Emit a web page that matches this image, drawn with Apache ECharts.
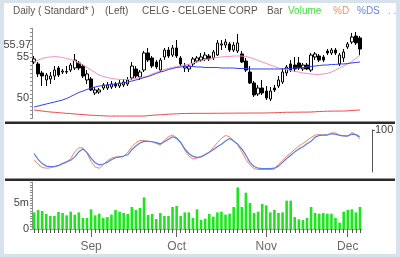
<!DOCTYPE html>
<html><head><meta charset="utf-8">
<script src="https://cdn.jsdelivr.net/npm/echarts@6/dist/echarts.min.js"></script>
<style>
html,body{margin:0;padding:0;background:#d7e2ed;}
#c{width:400px;height:257px;}
</style></head><body><div id="c"></div>
<script>
const dates = ['Aug 12','Aug 13','Aug 14','Aug 15','Aug 18','Aug 19','Aug 20','Aug 21','Aug 22','Aug 25','Aug 26','Aug 27','Aug 28','Aug 29',
'Sep 2','Sep 3','Sep 4','Sep 5','Sep 8','Sep 9','Sep 10','Sep 11','Sep 12','Sep 15','Sep 16','Sep 17','Sep 18','Sep 19','Sep 22','Sep 23','Sep 24','Sep 25','Sep 26','Sep 29','Sep 30',
'Oct 1','Oct 2','Oct 3','Oct 6','Oct 7','Oct 8','Oct 9','Oct 10','Oct 13','Oct 14','Oct 15','Oct 16','Oct 17','Oct 20','Oct 21','Oct 22','Oct 23','Oct 24','Oct 27','Oct 28','Oct 29','Oct 30',
'Nov 3','Nov 4','Nov 5','Nov 6','Nov 7','Nov 10','Nov 11','Nov 12','Nov 13','Nov 14','Nov 17','Nov 18','Nov 19','Nov 20','Nov 21','Nov 24','Nov 25','Nov 26','Nov 27','Nov 28',
'Dec 1','Dec 2','Dec 3','Dec 4'];

const opens = [54.39,54.15,53.05,52.20,52.32,52.68,53.66,53.17,53.17,53.41,
53.66,54.27,53.90,52.20,52.32,50.61,50.73,51.22,51.22,51.34,
51.71,51.46,51.59,51.71,52.44,53.54,52.56,53.41,55.49,54.88,
54.39,53.41,55.00,55.85,55.24,56.10,54.88,53.66,53.54,54.15,
54.51,54.63,54.76,55.12,54.88,55.24,56.46,56.46,56.59,55.85,
55.73,55.37,54.51,53.17,51.83,50.49,51.22,50.85,49.88,51.22,
51.46,51.95,53.05,54.15,54.02,54.27,53.54,54.02,53.41,55.00,
55.12,55.00,55.73,55.49,55.85,54.15,54.88,56.22,56.83,57.56,
57.32];
const closes = [54.76,52.93,52.68,52.80,52.68,53.41,52.80,53.29,53.23,54.02,
54.63,53.66,52.68,52.93,50.98,50.98,50.98,51.59,51.59,51.71,
51.46,51.83,51.95,52.20,53.90,52.68,53.17,55.49,54.63,53.90,
53.78,54.63,55.85,55.12,56.10,55.12,54.15,53.90,53.90,54.76,
54.88,55.00,55.24,54.76,55.61,56.71,56.59,56.83,55.85,56.46,
56.71,54.39,53.41,51.83,50.37,51.22,50.61,50.00,50.85,50.98,
52.20,53.17,53.78,53.41,53.54,53.66,54.02,53.54,55.24,55.37,
54.63,54.63,55.49,55.85,55.49,55.24,55.61,56.59,57.44,56.71,
55.97];
const lows = [54.15,52.56,51.46,51.46,51.71,52.20,52.56,52.93,52.93,53.17,
53.41,53.41,52.44,51.71,50.85,50.37,50.49,50.98,50.98,51.10,
51.22,51.22,51.34,51.46,52.20,52.44,52.20,53.17,54.39,53.66,
53.54,53.17,54.63,54.88,55.00,54.88,53.90,53.17,53.17,53.90,
54.27,54.39,54.51,54.51,54.63,55.12,55.85,56.10,55.61,55.61,
55.49,54.27,53.17,51.71,50.12,50.24,50.37,49.76,49.63,50.73,
51.22,51.71,52.68,53.17,53.17,53.41,53.29,53.41,53.17,54.63,
54.39,54.39,55.24,55.24,55.24,53.90,54.39,55.98,56.59,56.46,
55.24];
const highs = [55.12,54.39,53.29,53.05,53.17,53.90,53.90,53.54,53.90,54.27,
55.37,54.51,54.15,53.41,52.56,51.34,51.22,51.83,51.95,52.07,
51.95,52.20,52.32,52.56,54.39,53.90,53.41,55.73,56.10,55.12,
54.63,54.88,56.10,56.22,56.46,57.07,55.12,54.27,54.15,55.00,
55.12,55.49,55.61,55.37,55.85,57.07,57.07,57.20,56.83,56.83,
57.80,55.73,54.88,53.90,52.07,51.59,52.20,51.46,51.34,51.59,
52.68,53.66,54.02,54.63,55.00,55.00,54.27,54.27,55.49,55.61,
55.37,55.24,55.98,56.10,56.10,55.49,55.98,56.83,57.93,58.05,
57.56];

const maPink = [54.39,54.63,54.82,54.94,55.00,55.06,55.00,54.94,54.82,54.70,
54.51,54.27,54.02,53.72,53.41,53.11,52.80,52.62,52.50,52.38,
52.32,52.26,52.26,52.26,52.32,52.38,52.50,52.56,52.68,52.93,
53.11,53.29,53.48,53.60,53.72,53.84,53.90,54.02,54.09,54.27,
54.39,54.51,54.70,54.76,54.88,54.94,55.00,55.06,55.06,55.12,
55.12,55.12,55.06,54.94,54.76,54.57,54.39,54.21,54.02,53.84,
53.66,53.54,53.48,53.35,53.23,53.17,53.05,52.99,52.93,52.87,
52.87,52.93,52.99,53.17,53.41,53.66,53.90,54.15,54.45,54.82,
55.24];
const maBlue = [48.90,49.02,49.15,49.27,49.39,49.51,49.63,49.76,49.94,50.18,
50.43,50.67,50.85,51.04,51.22,51.34,51.46,51.52,51.59,51.65,
51.71,51.77,51.83,51.95,52.07,52.20,52.32,52.50,52.62,52.80,
52.99,53.17,53.29,53.48,53.60,53.72,53.78,53.84,53.84,53.84,
53.78,53.78,53.72,53.72,53.72,53.72,53.66,53.66,53.66,53.66,
53.60,53.60,53.60,53.54,53.54,53.54,53.54,53.54,53.54,53.54,
53.54,53.54,53.60,53.60,53.66,53.66,53.72,53.78,53.84,53.90,
53.96,54.02,54.02,54.09,54.09,54.15,54.15,54.21,54.27,54.33,
54.39];
const maRed = [48.54,48.48,48.41,48.35,48.29,48.26,48.22,48.17,48.13,48.10,
48.05,48.01,47.98,47.93,47.90,47.88,47.85,47.83,47.80,47.80,
47.80,47.80,47.80,47.80,47.80,47.80,47.80,47.80,47.85,47.90,
47.93,47.95,47.99,48.02,48.05,48.07,48.10,48.11,48.12,48.13,
48.13,48.13,48.13,48.13,48.14,48.14,48.14,48.15,48.15,48.15,
48.16,48.16,48.16,48.17,48.17,48.17,48.17,48.18,48.19,48.20,
48.22,48.24,48.26,48.26,48.27,48.27,48.28,48.28,48.29,48.32,
48.35,48.37,48.39,48.40,48.40,48.41,48.41,48.43,48.48,48.51,
48.54];

const stochD = [29,18,11,9,10,13,16,20,24,32,
48,58,57,45,25,12,9,17,27,33,
36,36,37,47,60,70,75,75,73,72,
68,64,76,84,88,82,72,52,38,31,
33,37,42,47,58,70,80,87,84,74,
65,48,30,17,8,6,6,6,6,7,
18,28,38,45,54,62,68,75,82,88,
89,88,89,93,93,88,86,85,94,89,78];
const stochDS = [44,30,20,14,13,13,15,20,24,28,
36,48,55,46,33,22,17,19,23,29,
34,36,38,41,53,62,69,73,73,72,
70,67,72,78,84,80,70,55,44,37,
35,36,41,47,53,60,66,74,80,74,
66,55,40,23,13,9,8,8,8,9,
14,23,32,40,48,55,60,67,73,83,
87,88,88,91,90,87,86,86,90,89,84];

const volumes = [3.2,3.65,3.46,2.88,2.5,2.5,3.27,3.08,2.63,3.33,
2.76,3.2,2.12,2.12,3.78,2.63,2.95,2.12,2.3,2.76,
3.65,3.33,3.08,2.88,4.23,3.65,4.04,6.09,2.69,2.88,
1.92,3.08,2.5,2.5,4.23,4.42,2.5,3.2,3.2,2.12,
3.78,1.73,1.99,2.88,2.37,3.2,3.33,2.76,2.95,4.23,
8.01,4.23,6.99,5.0,3.08,3.33,4.81,4.55,3.2,3.65,
3.08,3.2,5.45,5.45,2.3,1.86,1.73,2.12,4.23,3.08,
2.95,3.08,2.95,2.95,2.12,1.22,3.33,3.65,3.78,3.2,4.23];

const priceLabels = [50, 55];
const volLabels = {0: '0', 5: '5m'};
const stochLabels = [100];

const FONT = '"Liberation Sans", Arial, sans-serif';
const isMonthStart = i => i > 0 && dates[i].slice(0,3) !== dates[i-1].slice(0,3);

const chart = echarts.init(document.getElementById('c'), null, {renderer:'canvas'});
const L = 32, W = 330;

const titleParts = [
  {t:'Daily ( Standard* )', x:13, c:'#555'},
  {t:'(Left)', x:105, c:'#555'},
  {t:'CELG - CELGENE CORP', x:142, c:'#555'},
  {t:'Bar', x:267, c:'#555'},
  {t:'Volume', x:288, c:'#3fe23f'},
  {t:'%D', x:333, c:'#f4916e'},
  {t:'%DS', x:357, c:'#6680e8'},
  {t:'. .', x:388, c:'#999'}
];

const option = {
  animation: false,
  backgroundColor: 'transparent',
  graphic: { elements: [
    {id:'bg', type:'rect', shape:{x:4,y:3,width:392,height:251}, style:{fill:'#ffffff'}, z:-10, silent:true},
    {id:'sep1', type:'rect', shape:{x:5,y:121.5,width:390,height:2.5}, style:{fill:'#2a2a2a'}, z:10},
    {id:'sep2', type:'rect', shape:{x:5,y:178.5,width:390,height:2.5}, style:{fill:'#2a2a2a'}, z:10}
  ].concat(titleParts.map((p,k)=>({
    id:'t'+k, type:'text', x:p.x, y:11,
    style:{text:p.t, fill:p.c, fontSize:10, fontFamily:FONT, verticalAlign:'middle', align:'left'}
  })))},
  grid: [
    {left:L, width:W, top:28.3, height:90.2},
    {left:L, width:W, top:130, height:42},
    {left:L, width:W, top:182.2, height:46.8}
  ],
  xAxis: [
    {type:'category', gridIndex:0, data:dates, boundaryGap:true, show:false},
    {type:'category', gridIndex:1, data:dates, boundaryGap:true, show:false},
    {type:'category', gridIndex:2, data:dates, boundaryGap:true, position:'bottom',
      axisLine:{show:true, lineStyle:{color:'#a0a0a0', width:1}},
      axisTick:{show:true, interval:0, alignWithLabel:true, length:4, lineStyle:{color:'#555'}},
      axisLabel:{show:true, interval:(i)=>isMonthStart(i), formatter:v=>v.slice(0,3),
        color:'#6a6a6a', fontSize:12, fontFamily:FONT, margin:12},
      splitLine:{show:false}},
    {type:'category', gridIndex:2, data:dates, boundaryGap:true, position:'bottom',
      axisLine:{show:false},
      axisTick:{show:true, interval:(i)=>isMonthStart(i), alignWithLabel:true, length:8, lineStyle:{color:'#666'}},
      axisLabel:{show:false}, splitLine:{show:false}}
  ],
  yAxis: [
    {type:'value', gridIndex:0, min:47.5, max:58.5, interval:0.5, position:'left',
      axisLine:{show:true, lineStyle:{color:'#8a8a8a'}},
      axisTick:{show:true, length:2, lineStyle:{color:'#8a8a8a'}},
      axisLabel:{formatter:v=>priceLabels.indexOf(v)>=0?String(v):'', color:'#444', fontSize:11, fontFamily:FONT, margin:3},
      splitLine:{show:false}},
    {type:'value', gridIndex:1, min:0, max:100, interval:100, position:'right', offset:10,
      axisLine:{show:true, lineStyle:{color:'#555'}},
      axisTick:{show:true, length:3, customValues:stochLabels, lineStyle:{color:'#555'}},
      axisLabel:{customValues:stochLabels, color:'#444', fontSize:11, fontFamily:FONT, margin:3},
      splitLine:{show:false}},
    {type:'value', gridIndex:2, min:0, max:9, interval:0.5, position:'left',
      axisLine:{show:true, lineStyle:{color:'#8a8a8a'}},
      axisTick:{show:true, length:2, lineStyle:{color:'#8a8a8a'}},
      axisLabel:{formatter:v=>volLabels[v]!==undefined?volLabels[v]:'', color:'#444', fontSize:11, fontFamily:FONT, margin:3},
      splitLine:{show:false}}
  ],
  series: [
    {type:'candlestick', xAxisIndex:0, yAxisIndex:0, barWidth:3,
      data: dates.map((d,i)=>[opens[i], closes[i], lows[i], highs[i]]),
      itemStyle:{color:'#ffffff', color0:'#000000', borderColor:'#000000', borderColor0:'#000000', borderWidth:1}},
    {type:'line', xAxisIndex:0, yAxisIndex:0, data:maRed, symbol:'none', lineStyle:{color:'#f04848', width:1}},
    {type:'line', xAxisIndex:0, yAxisIndex:0, data:maPink, symbol:'none', smooth:false, lineStyle:{color:'#f58fc0', width:1}},
    {type:'line', xAxisIndex:0, yAxisIndex:0, data:maBlue, symbol:'none', lineStyle:{color:'#2f3ff0', width:1}},
    {type:'line', xAxisIndex:1, yAxisIndex:1, data:stochD, symbol:'none', lineStyle:{color:'#f5865e', width:1}},
    {type:'line', xAxisIndex:1, yAxisIndex:1, data:stochDS, symbol:'none', lineStyle:{color:'#5a78f0', width:1.2}},
    {type:'bar', xAxisIndex:2, yAxisIndex:2, data:volumes, barWidth:2.6, itemStyle:{color:'#1fe51f'}}
  ]
};
chart.setOption(option);

const lastClose = closes[closes.length-1];
const yLast = chart.convertToPixel({yAxisIndex:0}, lastClose);
chart.setOption({graphic:{elements:[{id:'lastLbl', type:'text', x:L-1, y:yLast-4,
  style:{text:lastClose.toFixed(2), fill:'#444', fontSize:11, fontFamily:FONT, align:'right', verticalAlign:'middle'}}]}});
</script></body></html>
